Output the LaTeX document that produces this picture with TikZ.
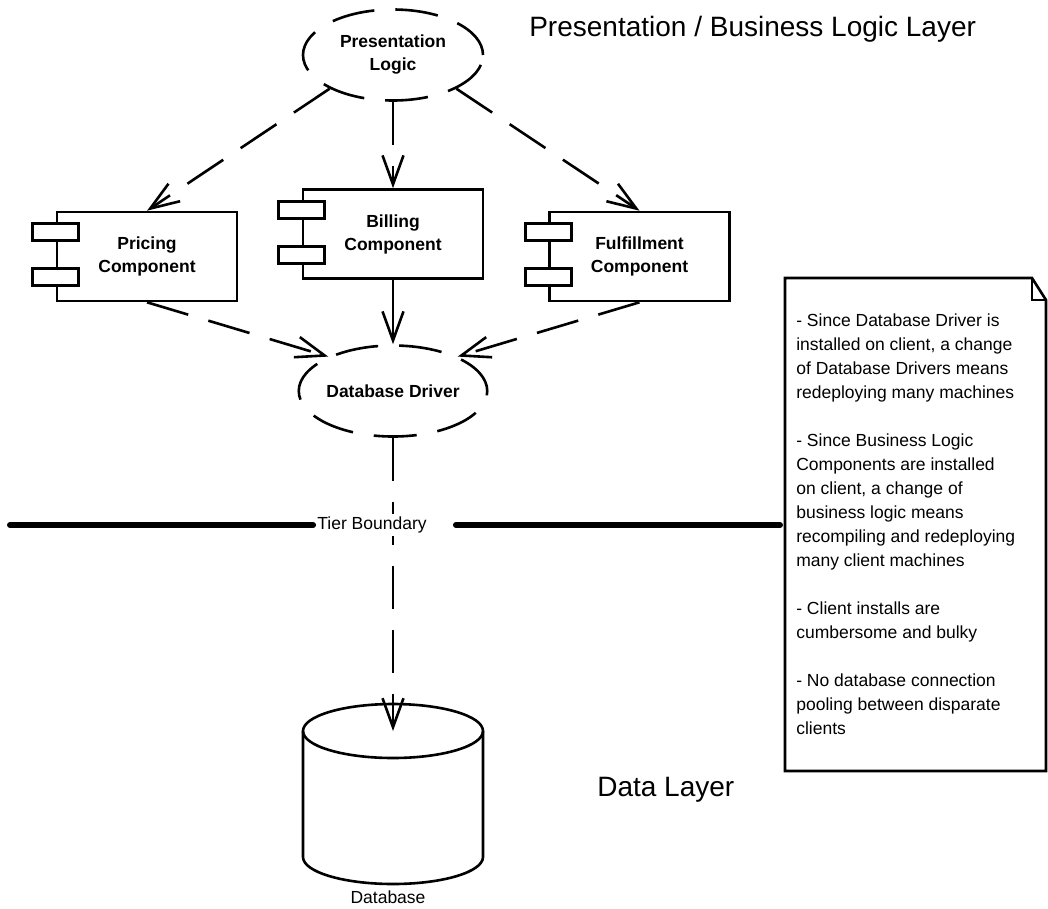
\documentclass[tikz,border=0pt]{standalone}
\usepackage{fontspec}
\setmainfont{Liberation Sans}
\usetikzlibrary{shapes.geometric,arrows.meta}

\begin{document}
\begin{tikzpicture}[x=1pt,y=1pt,line width=2.6pt,
	dep/.style={-{Straight Barb[length=29pt,width=21pt]},dash pattern=on 43pt off 21pt},
	use/.style={-{Straight Barb[length=29pt,width=21pt]}},
	logic/.style={ellipse,draw,dash pattern=on 43pt off 21pt,minimum width=180pt,minimum height=91pt,inner sep=0pt,align=center,font=\fontsize{17.5}{23}\selectfont\bfseries},
	comp/.style={rectangle,draw,minimum width=180pt,minimum height=89pt,inner sep=0pt,align=center,font=\fontsize{17.5}{23}\selectfont\bfseries},
	port/.style={draw,fill=white},
	layer/.style={inner sep=0pt,font=\fontsize{28}{34}\selectfont},
	small/.style={font=\fontsize{17.5}{24}\selectfont}]
	\useasboundingbox (0,0) rectangle (1048,-908);

	\node[logic] (pl) at (393,-55) {Presentation\\Logic};
	\node[comp] (pricing) at (147,-256.5) {Pricing\\Component};
	\node[comp] (billing) at (393,-234) {Billing\\Component};
	\node[comp] (fulfil) at (639.5,-256.5) {Fulfillment\\Component};
	\node[logic] (dd) at (393,-391) {Database Driver};
	\foreach \c in {pricing,billing,fulfil}
		\foreach \dy in {13,58}
			\draw[port] ([xshift=-23pt,yshift=-\dy pt]\c.north west) rectangle ++(46,-17);

	\draw[dep] (pl.208) -- (pricing.north);
	\draw[dep] (pl) -- (billing.north);
	\draw[dep] (pl.332) -- (fulfil.north);
	\draw[dep] (pricing.south) -- (dd.152);
	\draw[use] (billing.south) -- (dd);
	\draw[dep] (fulfil.south) -- (dd.28);

	% database
	\coordinate (dbtop) at (393,-731);
	\draw (dbtop) ellipse [x radius=90, y radius=27];
	\draw ([xshift=-90pt]dbtop) -- ++(0,-126) arc[start angle=180,end angle=360,x radius=90,y radius=27] -- ([xshift=90pt]dbtop);
	\node[small,anchor=base] (dblabel) at (388,-903) {Database};
	\draw[dep] (dd) -- (dbtop);

	% tier boundary
	\coordinate (tbl) at (10,-525);
	\coordinate (tbr) at (780,-525);
	\node[small,fill=white,inner sep=3pt] (tier) at (372,-525) {Tier Boundary};
	\draw[line width=6pt,line cap=round] (tbl) -- (tier.west);
	\draw[line width=6pt,line cap=round] ([xshift=25pt]tier.east) -- (tbr);

	\node[layer,anchor=base west] (upper) at (528,-36) {Presentation / Business Logic Layer};
	\node[layer,anchor=base west] (lower) at (596,-796) {Data Layer};

	% note
	\draw (785,-278) -- (1032,-278) -- (1046,-300) -- (1046,-771) -- (785,-771) -- cycle;
	\draw (1032,-278) -- (1032,-300) -- (1046,-300);
	\node[small,align=left,anchor=north west,inner sep=0pt] (notes) at (795,-313) {- Since Database Driver is\\installed on client, a change\\of Database Drivers means\\redeploying many machines\\[24pt]- Since Business Logic\\Components are installed\\on client, a change of\\business logic means\\recompiling and redeploying\\many client machines\\[24pt]- Client installs are\\cumbersome and bulky\\[24pt]- No database connection\\pooling between disparate\\clients};
\end{tikzpicture}
\end{document}
